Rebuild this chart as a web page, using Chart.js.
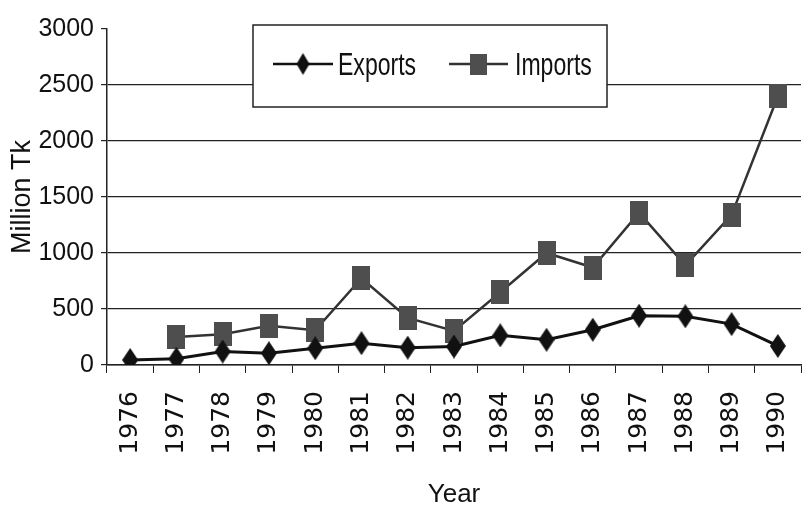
<!DOCTYPE html>
<html>
<head>
<meta charset="utf-8">
<script src="https://cdn.jsdelivr.net/npm/chart.js@4"></script>
<style>
  html, body { margin: 0; padding: 0; background: #fff; }
  #wrap { width: 808px; height: 510px; }
</style>
</head>
<body>
<div id="wrap"><canvas id="chart"></canvas></div>
<script>
// data
const years = ['1976','1977','1978','1979','1980','1981','1982','1983','1984','1985','1986','1987','1988','1989','1990'];
const exportsTk = [45, 55, 120, 105, 150, 195, 155, 165, 265, 225, 315, 440, 435, 365, 170];
const importsTk = [null, 250, 275, 350, 310, 775, 420, 305, 650, 1000, 870, 1360, 890, 1340, 2400];
const yTicks = [0, 500, 1000, 1500, 2000, 2500, 3000];

// marker images (diamond is taller than wide in the original)
function diamond(w, h, color) {
  const c = document.createElement('canvas');
  c.width = w; c.height = h;
  const g = c.getContext('2d');
  g.fillStyle = color;
  g.beginPath();
  g.moveTo(w / 2, 0); g.lineTo(w, h / 2); g.lineTo(w / 2, h); g.lineTo(0, h / 2);
  g.closePath();
  g.fill();
  return c;
}
function box(w, h, color) {
  const c = document.createElement('canvas');
  c.width = w; c.height = h;
  const g = c.getContext('2d');
  g.fillStyle = color;
  g.fillRect(0, 0, w, h);
  return c;
}
const dia = diamond(16, 24, '#111');
const sq = box(18, 24, '#4e4e4e');

// legend drawn in a box over the plot
const boxLegend = {
  id: 'boxLegend',
  afterDraw(chart) {
    const ctx = chart.ctx;
    ctx.save();
    ctx.fillStyle = '#fff';
    ctx.fillRect(253, 25, 354, 82);
    ctx.strokeStyle = '#222';
    ctx.lineWidth = 1.5;
    ctx.strokeRect(253, 25, 354, 82);

    const items = [
      { x1: 273, x2: 333, img: diamond(13, 22, '#111'), color: '#111', text: 'Exports', tx: 338 },
      { x1: 449, x2: 508, img: box(17, 21, '#4e4e4e'), color: '#333', text: 'Imports', tx: 515 }
    ];
    items.forEach(it => {
      ctx.strokeStyle = it.color;
      ctx.lineWidth = 2.5;
      ctx.beginPath();
      ctx.moveTo(it.x1, 64); ctx.lineTo(it.x2, 64);
      ctx.stroke();
      const cx = (it.x1 + it.x2) / 2;
      ctx.drawImage(it.img, cx - it.img.width / 2, 64 - it.img.height / 2);
      ctx.save();
      ctx.translate(it.tx, 75);
      ctx.scale(0.72, 1);
      ctx.fillStyle = '#111';
      ctx.font = '32px "Liberation Sans", Arial, sans-serif';
      ctx.textBaseline = 'alphabetic';
      ctx.fillText(it.text, 0, 0);
      ctx.restore();
    });
    ctx.restore();
  }
};

new Chart(document.getElementById('chart'), {
  type: 'line',
  data: {
    labels: years,
    datasets: [{
      label: 'Exports',
      data: exportsTk,
      borderColor: '#111',
      borderWidth: 3,
      pointStyle: dia,
      tension: 0
    }, {
      label: 'Imports',
      data: importsTk,
      borderColor: '#333',
      borderWidth: 2.5,
      pointStyle: sq,
      tension: 0
    }]
  },
  options: {
    responsive: true,
    maintainAspectRatio: false,
    animation: false,
    layout: { padding: { top: 29, right: -8, left: 0, bottom: 0 } },
    plugins: {
      legend: { display: false },
      tooltip: { enabled: false }
    },
    scales: {
      x: {
        offset: true,
        grid: {
          offset: true,
          drawOnChartArea: false,
          drawTicks: true,
          tickLength: 8,
          color: '#222'
        },
        border: { color: '#222', width: 1.5 },
        ticks: {
          color: '#111',
          minRotation: 90,
          maxRotation: 90,
          padding: 18,
          font: { family: '"DejaVu Sans", sans-serif', size: 25 }
        },
        title: {
          display: true,
          text: 'Year',
          color: '#111',
          font: { family: '"Liberation Sans", Arial, sans-serif', size: 26 },
          padding: { top: 8, bottom: 0 }
        },
        afterFit(scale) {
          scale.height = 145;
          scale.paddingLeft = 0;
          scale.paddingRight = 0;
        }
      },
      y: {
        min: 0,
        max: 3000,
        afterBuildTicks(scale) { scale.ticks = yTicks.map(v => ({ value: v })); },
        grid: {
          color: ctx => (ctx.tick && ctx.tick.value === 3000) ? 'rgba(0,0,0,0)' : '#222',
          tickColor: '#222',
          lineWidth: 1.2,
          tickLength: 6
        },
        border: { color: '#222', width: 1.5 },
        ticks: {
          color: '#111',
          padding: 7,
          callback: v => String(v),
          font: { family: '"Liberation Sans", Arial, sans-serif', size: 25 }
        },
        title: {
          display: true,
          text: 'Million Tk',
          color: '#111',
          font: { family: '"Liberation Sans", Arial, sans-serif', size: 27 },
          padding: { top: 6, bottom: 0 }
        },
        afterFit(scale) { scale.width = 107; }
      }
    }
  },
  plugins: [boxLegend]
});
</script>
</body>
</html>
